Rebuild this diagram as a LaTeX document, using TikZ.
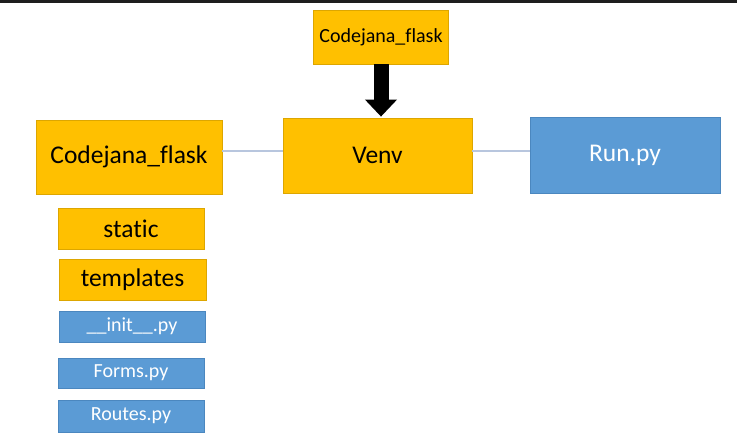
\documentclass[tikz,border=0pt]{standalone}
\usepackage{fontspec}
\setmainfont{Carlito}[Ligatures={NoCommon,NoRare}]
\usetikzlibrary{arrows.meta}
\definecolor{folder}{HTML}{FFC000}
\definecolor{folderline}{HTML}{DDA600}
\definecolor{pyfile}{HTML}{5B9BD5}
\definecolor{pyline}{HTML}{4B87BF}
\definecolor{link}{HTML}{B8C6DE}
\definecolor{topbar}{HTML}{1E1E1E}

\begin{document}
\begin{tikzpicture}[x=1pt,y=-1pt,
   dir/.style={draw=folderline,fill=folder,text=black,line width=0.8pt,inner sep=0pt},
   py/.style={draw=pyline,fill=pyfile,text=white,line width=0.8pt,inner sep=0pt},
   big/.style={font=\fontsize{25.5}{30}\selectfont},
   small/.style={font=\fontsize{20}{24}\selectfont}]
   \useasboundingbox (0,0) rectangle (737,442);
   \fill[topbar] (0,0) rectangle (737,3);
   \node[dir,small,minimum width=135pt,minimum height=54pt] (src) at (381,37) {Codejana\_flask};
   \node[dir,big,minimum width=186pt,minimum height=74pt] (app) at (129,157) {Codejana\_flask};
   \node[dir,big,minimum width=189pt,minimum height=75pt] (venv) at (377.5,155.5) {Venv};
   \node[py,big,minimum width=190pt,minimum height=76pt] (run) at (625,155) {Run.py};
   \node[dir,big,minimum width=146pt,minimum height=41pt] (static) at (131,228.5) {static};
   \node[dir,big,minimum width=147pt,minimum height=41pt] (tmpl) at (132.5,279.5) {templates};
   \node[py,small,minimum width=146pt,minimum height=31pt] (init) at (132,326.5) {\_\_init\_\_.py};
   \node[py,small,minimum width=146pt,minimum height=30pt] (forms) at (131,373) {Forms.py};
   \node[py,small,minimum width=146pt,minimum height=32pt] (routes) at (131,416) {Routes.py};
   \path[draw=link,line width=1.5pt] (app.east |- 0,151) edge (venv.west |- 0,151)
            (venv.east |- 0,151) edge (run.west |- 0,151);
   \draw[line width=15pt,-{Triangle[width=31pt,length=17pt]}] (src.south) -- ([yshift=1pt]src.south |- venv.north);
\end{tikzpicture}
\end{document}
